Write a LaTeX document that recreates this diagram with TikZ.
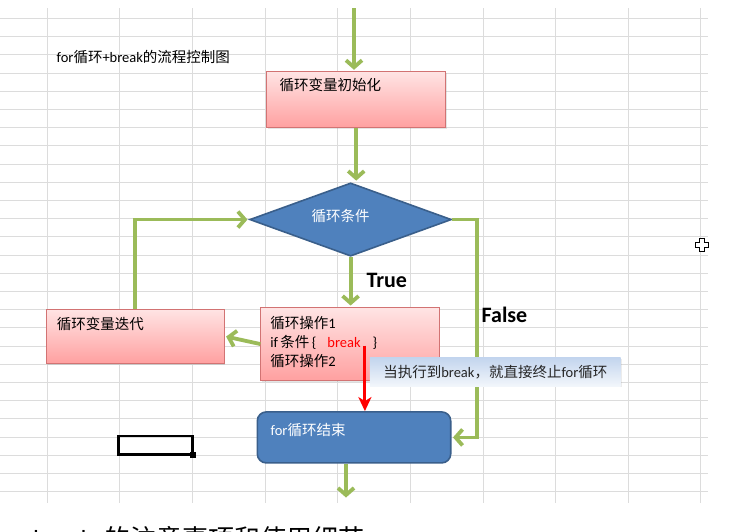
\documentclass[tikz,border=0pt]{standalone}
\usepackage{fontspec}
\setmainfont{Carlito}
\newfontfamily\cjk{Noto Sans CJK SC}
\usepackage{tikz}
\usetikzlibrary{positioning, arrows.meta, shapes.geometric, shadows}

\definecolor{flowgreen}{HTML}{9BBB59}
\definecolor{accentblue}{HTML}{4F81BD}
\definecolor{blueedge}{HTML}{3A5F8B}
\definecolor{pinktop}{HTML}{FFE4E4}
\definecolor{pinkbot}{HTML}{FFA0A0}
\definecolor{pinkedge}{HTML}{D27373}
\definecolor{calltop}{HTML}{C3D5EE}
\definecolor{callbot}{HTML}{F2F6FB}
\definecolor{gridgray}{HTML}{DCDCDC}

\begin{document}
\begin{tikzpicture}[x=1pt, y=-1pt,
    font=\fontsize{14.5}{19}\selectfont,
    gridline/.style={draw=gridgray, line width=0.8pt},
    plain/.style={inner sep=0pt},
    pinkbox/.style={draw=pinkedge, line width=0.8pt, top color=pinktop,
      bottom color=pinkbot, inner sep=0pt, align=left,
      drop shadow={opacity=0.2, shadow xshift=1pt, shadow yshift=-1.5pt}},
    endblock/.style={draw=blueedge, line width=1.6pt, fill=accentblue,
      rounded corners=9pt, inner sep=0pt, text=white},
    decision/.style={diamond, draw=blueedge, line width=1.6pt,
      fill=accentblue, inner sep=0pt, minimum width=201.7pt,
      minimum height=73.3pt},
    hint/.style={top color=calltop, bottom color=callbot,
      minimum width=250.7pt, minimum height=28.3pt, inner sep=0pt,
      text=black!85},
    flow/.style={draw=flowgreen, line width=3.8pt,
      -{Straight Barb[length=7pt, width=16pt]}, shorten >=1.5pt},
    stop/.style={draw=red, line width=3pt,
      -{Stealth[length=14pt, width=13pt, inset=4pt]}},
    branch/.style={font=\fontsize{22}{26}\selectfont\bfseries, inner sep=0pt}
  ]
  \useasboundingbox (0,0) rectangle (738,531);
  \clip (0,0) rectangle (738,531);
  \fill[white] (0,0) rectangle (738,531);

  % spreadsheet grid
  \foreach \gy in {0,...,26}
    \draw[gridline] (0,{18.3+18.2*\gy}) -- (708,{18.3+18.2*\gy});
  \foreach \gx in {0,...,9}
    \draw[gridline] ({47+72.65*\gx},8) -- ({47+72.65*\gx},503);

  \node[plain, anchor=west] (title) at (56.5,56.7)
    {for{\cjk 循环}+break{\cjk 的流程控制图}};

  \node[pinkbox, inner xsep=13pt, inner ysep=6pt] (init) at (356.2,99.7)
    {\parbox[t][44pt][t]{153pt}{\cjk 循环变量初始化}};
  \node[decision, below=54pt of init, xshift=-5.6pt,
    label={[plain, text=white, xshift=-10pt, yshift=3.3pt]center:{\cjk 循环条件}}]
    (cond) {};
  \node[pinkbox, below=50pt of cond, xshift=-0.7pt, inner xsep=9.5pt,
    inner ysep=9.4pt] (op)
    {\parbox[t][54.5pt][t]{159.3pt}{{\cjk 循环操作}1\\
      if\,{\cjk 条件}\,\{\hspace{11pt}\textcolor{red}{break}\hspace{12pt}\}\\
      {\cjk 循环操作}2}};
  \node[pinkbox, left=35.7pt of op, yshift=7.8pt, inner xsep=10.5pt,
    inner ysep=7.7pt] (iter)
    {\parbox[t][38.9pt][t]{157pt}{\cjk 循环变量迭代}};
  \node[endblock, below=30pt of op, xshift=4.1pt, inner xsep=13.4pt,
    inner ysep=11.7pt] (endbox)
    {\parbox[t][27.6pt][t]{166.6pt}{for{\cjk 循环结束}}};

  \coordinate (entry) at (354,8);
  \coordinate (exit) at (346,499);
  \coordinate (brk) at ([xshift=15pt, yshift=-1.5pt]op.center);

  \draw[flow] (entry) -- (entry |- init.north);
  \draw[flow] (init.south) -- (init.south |- cond.north);
  \draw[flow] (cond.south) -- node[branch, anchor=west, xshift=14pt,
    yshift=1.7pt] (trueLbl) {True} (cond.south |- op.north);
  \draw[flow] (op.west) -- (iter.east);
  \draw[flow] (iter.north) |- (cond.west);
  \draw[flow] (cond.east) -- ++(25,0) |- node[branch, anchor=west,
    pos=0.219, xshift=2.5pt] (falseLbl) {False} (endbox.east);
  \draw[flow] ([xshift=-8pt]endbox.south) -- (exit);
  \draw[stop] (brk) -- (brk |- endbox.north);

  \node[hint, drop shadow={opacity=0.15, shadow xshift=1pt,
    shadow yshift=-1pt}] (note) at (495.3,371.9)
    {{\cjk 当执行到}break{\cjk ，就直接终止}for{\cjk 循环}};

  % selected cell and mouse cursor
  \draw[line width=2.5pt] (118.3,436) rectangle (192.7,454.3);
  \fill (190,452) rectangle (195.5,457.5);
  \draw[fill=white, line width=1.3pt] (699.2,238.2) -- (704.2,238.2)
    -- (704.2,242.2) -- (708.2,242.2) -- (708.2,247.2) -- (704.2,247.2)
    -- (704.2,251.2) -- (699.2,251.2) -- (699.2,247.2) -- (695.2,247.2)
    -- (695.2,242.2) -- (699.2,242.2) -- cycle;

  \node[plain, anchor=base west, font=\fontsize{26}{30}\selectfont]
    (heading) at (33,548) {break\hspace{12pt}{\cjk 的注意事项和使用细节}};
\end{tikzpicture}
\end{document}
